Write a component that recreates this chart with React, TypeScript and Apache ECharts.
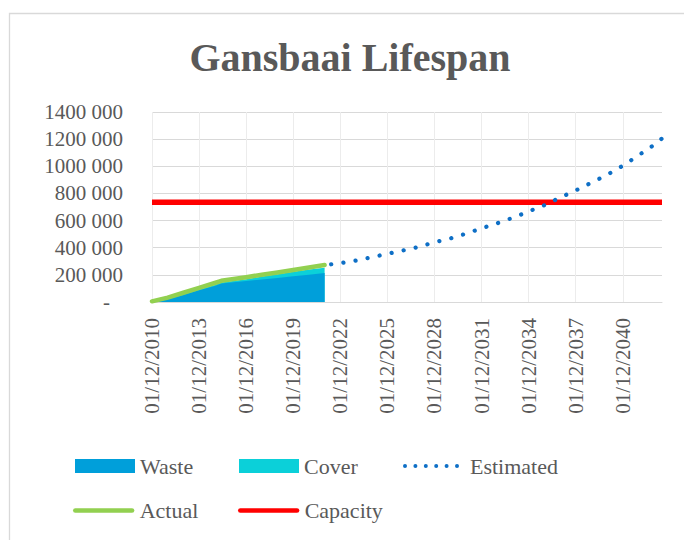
import React, { useEffect, useRef } from 'react';
import * as echarts from 'echarts';

// ---- Data ----
const actualDates = ['2010-12', '2011-12', '2012-12', '2013-12', '2014-12', '2015-05', '2016-12', '2017-12', '2018-12', '2019-12', '2020-12', '2021-12'];
const actualValues = [5000, 32000, 68000, 104000, 140000, 156000, 183000, 201000, 218000, 236000, 254000, 272000];
const wasteValues = [0, 20000, 52000, 86000, 118000, 136000, 154000, 166000, 177000, 189000, 201000, 214000];
const coverValues = [0, 4000, 5000, 6000, 8000, 8000, 14000, 21000, 27000, 33000, 38000, 38000];

const estimatedDates = ['2022-05', '2022-12', '2023-12', '2024-12', '2025-12', '2026-12', '2027-12', '2028-12', '2029-12', '2030-12', '2031-12', '2032-12', '2033-12', '2034-12', '2035-12', '2036-12', '2037-12', '2038-12', '2039-12', '2040-12', '2041-12', '2042-12', '2043-06'];
const estimatedValues = [278000, 286000, 305000, 330000, 355000, 380000, 406000, 440000, 468000, 503000, 543000, 580000, 621000, 667000, 713000, 769000, 822000, 879000, 937000, 1004000, 1080000, 1158000, 1205000];

const capacityDates = ['2010-12', '2043-06'];
const capacityValues = [735000, 735000];

const yTicks = [0, 200000, 400000, 600000, 800000, 1000000, 1200000, 1400000];

const START_YEAR = 2010;
const toMonths = (d: string) => {
  const [y, m] = d.split('-').map(Number);
  return (y - START_YEAR) * 12 + (m - 12);
};
const pairs = (dates: string[], vals: number[]) => dates.map((d, i) => [toMonths(d), vals[i]]);
// Cover is stacked on top of Waste (stack computed here because both axes are numeric)
const coverStacked = coverValues.map((v, i) => v + wasteValues[i]);

const FONT = 'Liberation Serif';
const GREY = '#595959';

const dotsPath = (() => {
  const centers = [2, 12.4, 22.8, 33.2, 43.6, 54];
  return 'path://' + centers.map((c) => `M${c - 2},2 a2,2 0 1,0 4,0 a2,2 0 1,0 -4,0 Z`).join(' ');
})();
const capsulePath = 'path://M2.25,0 L57.75,0 A2.25,2.25 0 0 1 57.75,4.5 L2.25,4.5 A2.25,2.25 0 0 1 2.25,0 Z';

export default function App() {
  const ref = useRef<HTMLDivElement>(null);
  useEffect(() => {
    if (!ref.current) return;
    const chart = echarts.init(ref.current, null, { renderer: 'svg' });
    const textStyle = { fontFamily: FONT, fontSize: 22, color: GREY };
    const legendBase = { padding: 0, selectedMode: false as const, textStyle, itemStyle: { borderWidth: 0 } };
    chart.setOption({
      animation: false,
      backgroundColor: '#ffffff',
      title: {
        text: 'Gansbaai Lifespan',
        left: 345,
        top: 32,
        textAlign: 'center',
        textStyle: { fontFamily: FONT, fontSize: 40, fontWeight: 'bold', color: GREY },
      },
      graphic: [
        {
          type: 'rect',
          shape: { x: 9.5, y: 13.5, width: 700, height: 600 },
          style: { fill: 'none', stroke: '#d9d9d9', lineWidth: 1.3 },
          silent: true,
          z: -10,
        },
      ],
      legend: [
        { ...legendBase, data: [{ name: 'Waste', icon: 'rect' }], left: 75, top: 455, itemWidth: 60, itemHeight: 14 },
        { ...legendBase, data: [{ name: 'Cover', icon: 'rect' }], left: 239, top: 455, itemWidth: 60, itemHeight: 14 },
        { ...legendBase, data: [{ name: 'Estimated', icon: dotsPath }], left: 403, top: 455, itemWidth: 56, itemHeight: 4, textStyle: { ...textStyle, padding: [0, 0, 0, 6] } },
        { ...legendBase, data: [{ name: 'Actual', icon: capsulePath }], left: 73, top: 499.5, itemWidth: 62, itemHeight: 4.6 },
        { ...legendBase, data: [{ name: 'Capacity', icon: capsulePath }], left: 238, top: 499.5, itemWidth: 62, itemHeight: 4.6 },
      ],
      grid: { left: 152, right: 22, top: 112, bottom: 238, containLabel: false },
      xAxis: {
        type: 'value',
        min: 0,
        max: toMonths('2043-06'),
        interval: 36,
        axisLine: { show: true, lineStyle: { color: '#d9d9d9', width: 1 } },
        axisTick: { show: false },
        splitLine: { show: true, showMaxLine: false, lineStyle: { color: '#ececec', width: 1 } },
        axisLabel: {
          rotate: 90,
          margin: 16,
          showMaxLabel: false,
          fontFamily: FONT,
          fontSize: 21,
          color: GREY,
          formatter: (v: number) => (v % 36 === 0 ? `01/12/${START_YEAR + v / 12}` : ''),
        },
      },
      yAxis: {
        type: 'value',
        min: yTicks[0],
        max: yTicks[yTicks.length - 1],
        interval: yTicks[1] - yTicks[0],
        axisLine: { show: false },
        axisTick: { show: false },
        splitLine: { show: true, lineStyle: { color: '#d9d9d9', width: 1 } },
        axisLabel: {
          margin: 29,
          fontFamily: FONT,
          fontSize: 21,
          color: GREY,
          formatter: (v: number) => (v === 0 ? '{z|-}' : `${v / 1000} 000`),
          rich: { z: { fontFamily: FONT, fontSize: 21, color: GREY, padding: [0, 13, 0, 0] } },
        },
      },
      series: [
        {
          name: 'Cover',
          type: 'line',
          color: '#0BD0D9',
          symbol: 'none',
          lineStyle: { width: 0, color: '#0BD0D9' },
          areaStyle: { color: '#0BD0D9', opacity: 1 },
          data: pairs(actualDates, coverStacked),
        },
        {
          name: 'Waste',
          type: 'line',
          color: '#009FDA',
          symbol: 'none',
          lineStyle: { width: 0, color: '#009FDA' },
          areaStyle: { color: '#009FDA', opacity: 1 },
          data: pairs(actualDates, wasteValues),
        },
        {
          name: 'Actual',
          type: 'line',
          color: '#92D050',
          symbol: 'none',
          lineStyle: { width: 4.5, color: '#92D050', cap: 'round', join: 'round' },
          data: pairs(actualDates, actualValues),
        },
        {
          name: 'Capacity',
          type: 'line',
          color: '#FF0000',
          symbol: 'none',
          lineStyle: { width: 5.5, color: '#FF0000', cap: 'butt' },
          data: pairs(capacityDates, capacityValues),
        },
        {
          name: 'Estimated',
          type: 'line',
          color: '#0E6FC6',
          symbol: 'none',
          lineStyle: { width: 4.2, color: '#0E6FC6', type: [0.1, 12.2], cap: 'round' },
          data: pairs(estimatedDates, estimatedValues),
        },
      ],
    });
    return () => chart.dispose();
  }, []);
  return <div ref={ref} style={{ position: 'fixed', left: 0, top: 0, width: 684, height: 540 }} />;
}
